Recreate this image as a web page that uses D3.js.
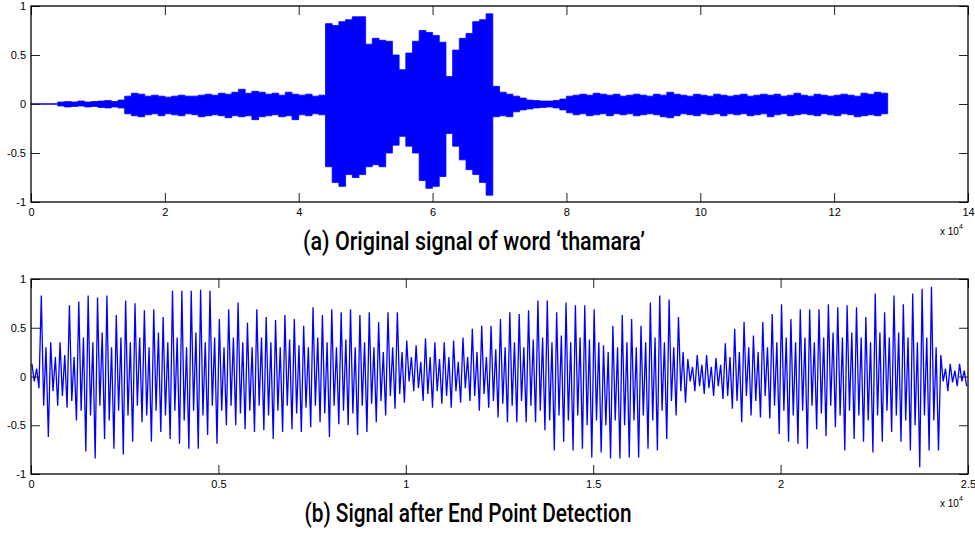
<!DOCTYPE html>
<html>
<head>
<meta charset="utf-8">
<script src="https://cdn.jsdelivr.net/npm/d3@7"></script>
<style>
  html, body { margin: 0; padding: 0; background: #fff; }
  svg { display: block; }
</style>
</head>
<body>
<div id="showBox" style="width:975px;height:533px"></div>
<script>
// (a) original signal: envelope per 1000 samples (max / min of each block)
const aStep = 1000
const aHi = [0.003, 0.003, 0.003, 0.003,
  0.02, 0.025, 0.02, 0.03, 0.02, 0.025, 0.03, 0.035, 0.025, 0.04,
  0.08,
  0.11, 0.1, 0.08, 0.09, 0.08, 0.07, 0.08, 0.09, 0.08, 0.08, 0.09, 0.1, 0.09, 0.11, 0.1,
  0.12, 0.15, 0.11, 0.13, 0.12, 0.1, 0.11, 0.09, 0.12, 0.1, 0.09, 0.1, 0.08, 0.09,
  0.82,
  0.8, 0.84, 0.86, 0.89, 0.89, 0.61, 0.67, 0.65, 0.64, 0.5,
  0.35, 0.52, 0.64, 0.75, 0.73, 0.7, 0.63, 0.28, 0.55, 0.67,
  0.72, 0.84, 0.86, 0.92, 0.18,
  0.12, 0.1, 0.08, 0.06, 0.04, 0.035, 0.03, 0.03, 0.035, 0.05,
  0.08, 0.09, 0.1, 0.09, 0.11, 0.1, 0.09, 0.1, 0.08, 0.09, 0.1, 0.09, 0.08, 0.1, 0.09, 0.12,
  0.1, 0.09, 0.08, 0.1, 0.09, 0.08, 0.1, 0.09, 0.08, 0.09, 0.1, 0.08, 0.09, 0.1, 0.09, 0.1,
  0.08, 0.09, 0.11, 0.09, 0.08, 0.1, 0.09, 0.08, 0.09, 0.1, 0.09, 0.08, 0.11, 0.1, 0.12, 0.11]
const aLo = [-0.003, -0.003, -0.003, -0.003,
  -0.02, -0.03, -0.025, -0.02, -0.03, -0.025, -0.035, -0.04, -0.03, -0.04,
  -0.1,
  -0.12, -0.13, -0.11, -0.1, -0.12, -0.1, -0.11, -0.12, -0.1, -0.11, -0.13, -0.12, -0.11, -0.12, -0.14,
  -0.12, -0.13, -0.12, -0.16, -0.13, -0.12, -0.11, -0.13, -0.12, -0.16, -0.11, -0.12, -0.1, -0.11,
  -0.64,
  -0.8, -0.84, -0.72, -0.75, -0.72, -0.64, -0.62, -0.64, -0.5, -0.42,
  -0.33, -0.43, -0.5, -0.78, -0.86, -0.84, -0.74, -0.3, -0.43, -0.57,
  -0.67, -0.72, -0.8, -0.93, -0.13,
  -0.12, -0.13, -0.08, -0.06, -0.05, -0.04, -0.035, -0.03, -0.04, -0.06,
  -0.09, -0.11, -0.1, -0.12, -0.11, -0.1, -0.12, -0.1, -0.11, -0.1, -0.12, -0.11, -0.1, -0.11, -0.13, -0.14,
  -0.12, -0.1, -0.11, -0.12, -0.1, -0.11, -0.1, -0.12, -0.1, -0.11, -0.1, -0.12, -0.11, -0.1, -0.13, -0.11,
  -0.1, -0.12, -0.11, -0.1, -0.11, -0.12, -0.1, -0.11, -0.12, -0.1, -0.11, -0.13, -0.12, -0.11, -0.12, -0.1]

// (b) after end point detection: per 250 samples, main peaks and inner peaks
const bStep = 250
const bHi = [0.13, 0.83, 0.35, 0.35, 0.73, 0.77, 0.83, 0.81, 0.83, 0.63,
  0.78, 0.75, 0.68, 0.69, 0.61, 0.88, 0.88, 0.88, 0.89, 0.88,
  0.59, 0.69, 0.76, 0.55, 0.69, 0.61, 0.58, 0.63, 0.59, 0.52,
  0.71, 0.63, 0.69, 0.66, 0.69, 0.63, 0.66, 0.56, 0.66, 0.66,
  0.37, 0.32, 0.39, 0.35, 0.35, 0.37, 0.4, 0.49, 0.52, 0.52,
  0.59, 0.66, 0.64, 0.68, 0.78, 0.78, 0.66, 0.76, 0.73, 0.73,
  0.69, 0.32, 0.52, 0.63, 0.59, 0.52, 0.76, 0.83, 0.79, 0.61,
  0.18, 0.22, 0.22, 0.19, 0.34, 0.49, 0.56, 0.42, 0.56, 0.64,
  0.74, 0.59, 0.69, 0.69, 0.69, 0.74, 0.71, 0.73, 0.71, 0.61,
  0.85, 0.66, 0.83, 0.74, 0.85, 0.9, 0.92, 0.22, 0.13, 0.13]
const bLo = [-0.12, -0.62, -0.3, -0.32, -0.45, -0.77, -0.84, -0.64, -0.74, -0.8,
  -0.67, -0.47, -0.67, -0.57, -0.64, -0.69, -0.74, -0.74, -0.6, -0.69,
  -0.5, -0.5, -0.54, -0.57, -0.55, -0.64, -0.57, -0.54, -0.57, -0.52,
  -0.47, -0.62, -0.49, -0.5, -0.6, -0.57, -0.47, -0.4, -0.33, -0.27,
  -0.15, -0.25, -0.32, -0.28, -0.32, -0.27, -0.25, -0.35, -0.32, -0.42,
  -0.47, -0.47, -0.47, -0.47, -0.55, -0.76, -0.67, -0.76, -0.74, -0.83,
  -0.78, -0.84, -0.84, -0.83, -0.83, -0.74, -0.76, -0.64, -0.4, -0.27,
  -0.15, -0.18, -0.2, -0.23, -0.33, -0.47, -0.4, -0.42, -0.43, -0.59,
  -0.67, -0.69, -0.74, -0.54, -0.61, -0.52, -0.76, -0.64, -0.67, -0.78,
  -0.67, -0.57, -0.67, -0.76, -0.93, -0.76, -0.76, -0.15, -0.1, -0.1]
const bHi2 = [0.08, 0.3, 0.2, 0.22, 0.2, 0.4, 0.35, 0.45, 0.3, 0.4,
  0.35, 0.4, 0.3, 0.45, 0.35, 0.4, 0.3, 0.45, 0.35, 0.4,
  0.3, 0.4, 0.35, 0.3, 0.4, 0.35, 0.3, 0.38, 0.32, 0.3,
  0.4, 0.35, 0.3, 0.38, 0.3, 0.35, 0.3, 0.25, 0.3, 0.25,
  0.2, 0.15, 0.2, 0.18, 0.2, 0.15, 0.2, 0.25, 0.2, 0.28,
  0.3, 0.35, 0.3, 0.38, 0.4, 0.35, 0.42, 0.35, 0.4, 0.38,
  0.35, 0.25, 0.3, 0.35, 0.3, 0.35, 0.4, 0.35, 0.3, 0.25,
  0.1, 0.12, 0.1, 0.12, 0.2, 0.25, 0.3, 0.25, 0.3, 0.35,
  0.4, 0.35, 0.4, 0.35, 0.4, 0.45, 0.4, 0.45, 0.4, 0.35,
  0.45, 0.4, 0.45, 0.4, 0.35, 0.4, 0.3, 0.08, 0.06, 0.06]
const bLo2 = [-0.05, -0.3, -0.15, -0.2, -0.25, -0.35, -0.4, -0.3, -0.45, -0.35,
  -0.4, -0.3, -0.4, -0.35, -0.4, -0.35, -0.45, -0.35, -0.4, -0.3,
  -0.35, -0.3, -0.38, -0.35, -0.3, -0.4, -0.35, -0.3, -0.38, -0.32,
  -0.3, -0.38, -0.3, -0.35, -0.38, -0.3, -0.28, -0.25, -0.2, -0.18,
  -0.05, -0.12, -0.18, -0.15, -0.2, -0.15, -0.12, -0.2, -0.18, -0.25,
  -0.28, -0.3, -0.25, -0.3, -0.35, -0.45, -0.4, -0.45, -0.4, -0.5,
  -0.45, -0.5, -0.45, -0.5, -0.45, -0.4, -0.45, -0.35, -0.25, -0.15,
  -0.05, -0.1, -0.12, -0.1, -0.2, -0.25, -0.2, -0.25, -0.2, -0.3,
  -0.35, -0.4, -0.35, -0.3, -0.38, -0.3, -0.4, -0.35, -0.4, -0.45,
  -0.4, -0.35, -0.4, -0.45, -0.5, -0.4, -0.45, -0.05, -0.06, -0.05]

const aXTicks = [0, 20000, 40000, 60000, 80000, 100000, 120000, 140000]
const bXTicks = [0, 5000, 10000, 15000, 20000, 25000]
const yTicks = [-1, -0.5, 0, 0.5, 1]
const captionA = "(a) Original signal of word \u2018thamara\u2019"
const captionB = "(b) Signal after End Point Detection"

const blue = "#0000ff"
const width = 975, height = 533

const svg = d3.select("#showBox").append("svg")
    .attr("width", width)
    .attr("height", height)
    .attr("font-family", "'Liberation Sans', Arial, sans-serif")

function panel(g, x, y, xTicks, fmt, id) {
    const [x0, x1] = x.range()
    const [y0, y1] = y.range()

    g.append("clipPath").attr("id", id)
        .append("rect")
        .attr("x", x0).attr("y", y1)
        .attr("width", x1 - x0).attr("height", y0 - y1)

    const plot = g.append("g").attr("clip-path", `url(#${id})`)

    const tick = 9
    const styleAxis = a => {
        a.select(".domain").remove()
        a.selectAll(".tick line").attr("stroke", "#222")
        a.selectAll("text").attr("fill", "#000").attr("font-size", 11)
    }
    g.append("g").attr("transform", `translate(0,${y0})`)
        .call(d3.axisBottom(x).tickValues(xTicks).tickSize(-tick).tickPadding(6).tickFormat(fmt))
        .call(styleAxis)
    g.append("g").attr("transform", `translate(0,${y1})`)
        .call(d3.axisTop(x).tickValues(xTicks).tickSize(-tick).tickFormat(""))
        .call(styleAxis)
    g.append("g").attr("transform", `translate(${x0},0)`)
        .call(d3.axisLeft(y).tickValues(yTicks).tickSize(-tick).tickPadding(5).tickFormat(d => String(d)))
        .call(styleAxis)
    g.append("g").attr("transform", `translate(${x1},0)`)
        .call(d3.axisRight(y).tickValues(yTicks).tickSize(-tick).tickFormat(""))
        .call(styleAxis)

    g.append("rect")
        .attr("x", x0).attr("y", y1)
        .attr("width", x1 - x0).attr("height", y0 - y1)
        .attr("fill", "none")
        .attr("stroke", "#000")
        .attr("stroke-width", 1.3)

    // exponent label
    const ex = g.append("text")
        .attr("x", x1 - 28).attr("y", y0 + 33)
        .attr("font-size", 10)
        .attr("fill", "#000")
    ex.append("tspan").text("x 10")
    ex.append("tspan").attr("dy", -6).attr("font-size", 7).text("4")

    return plot
}

// panel (a)
const xA = d3.scaleLinear([0, 140000], [31, 968])
const yA = d3.scaleLinear([-1, 1], [202, 6])
const gA = svg.append("g")
const plotA = panel(gA, xA, yA, aXTicks, d => d / 1e4, "clipA")

const aData = aHi.map((h, i) => ({s: i * aStep, hi: h, lo: aLo[i]}))
// closing corner so the last block keeps its width
aData.push({s: aHi.length * aStep, hi: aHi[aHi.length - 1], lo: aLo[aLo.length - 1]})

plotA.append("path")
    .datum(aData)
    .attr("fill", blue)
    .attr("stroke", blue)
    .attr("stroke-width", 0.8)
    .attr("d", d3.area()
        .x(d => xA(d.s))
        .y0(d => yA(d.lo))
        .y1(d => yA(d.hi))
        .curve(d3.curveStepAfter))

// panel (b)
const xB = d3.scaleLinear([0, 25000], [31, 968])
const yB = d3.scaleLinear([-1, 1], [474, 279])
const gB = svg.append("g")
const plotB = panel(gB, xB, yB, bXTicks, d => d / 1e4, "clipB")

const bData = []
bHi.forEach((h, i) => {
    const s = i * bStep
    bData.push([s + 0.1 * bStep, h])
    bData.push([s + 0.35 * bStep, bLo2[i]])
    bData.push([s + 0.6 * bStep, bHi2[i]])
    bData.push([s + 0.85 * bStep, bLo[i]])
})

plotB.append("path")
    .datum(bData)
    .attr("fill", "none")
    .attr("stroke", blue)
    .attr("stroke-width", 1.3)
    .attr("stroke-linejoin", "miter")
    .attr("d", d3.line().x(d => xB(d[0])).y(d => yB(d[1])))

// captions
const caption = (txt, cx, y, w) => svg.append("text")
    .attr("x", cx).attr("y", y)
    .attr("text-anchor", "middle")
    .attr("font-family", "Roboto, 'DejaVu Sans', sans-serif")
    .attr("font-weight", 500)
    .attr("font-size", 26)
    .attr("textLength", w)
    .attr("lengthAdjust", "spacingAndGlyphs")
    .attr("fill", "#000")
    .text(txt)

caption(captionA, 474, 250, 342)
caption(captionB, 468, 522, 327)
</script>
</body>
</html>
